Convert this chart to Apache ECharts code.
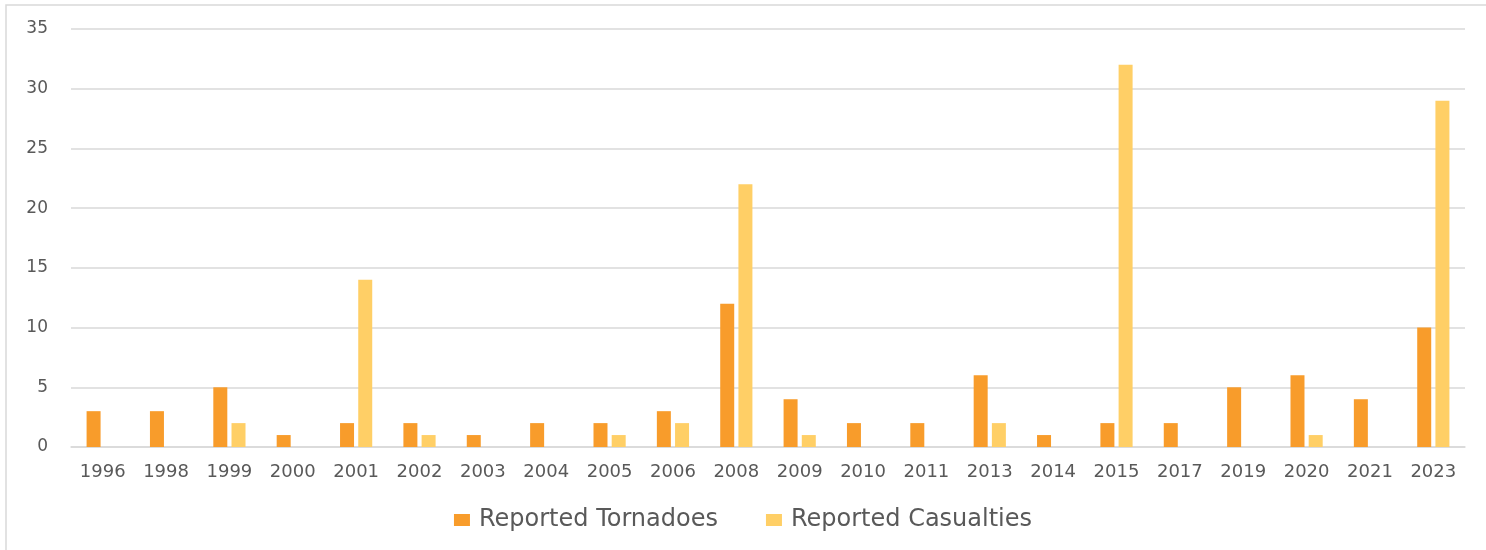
<!DOCTYPE html>
<html><head><meta charset="utf-8">
<script src="https://cdn.jsdelivr.net/npm/echarts@6/dist/echarts.min.js"></script>
<style>html,body{margin:0;padding:0;background:#fff}#c{width:1486px;height:550px}</style>
</head><body><div id="c"></div>
<script>
const years = ['1996','1998','1999','2000','2001','2002','2003','2004','2005','2006','2008','2009','2010','2011','2013','2014','2015','2017','2019','2020','2021','2023'];
const tornadoes = [3,3,5,1,2,2,1,2,2,3,12,4,2,2,6,1,2,2,5,6,4,10];
const casualties = [0,0,2,0,14,1,0,0,1,2,22,1,0,0,2,0,32,0,0,1,0,29];
const yTicks = [0,5,10,15,20,25,30,35];

const chart = echarts.init(document.getElementById('c'), null, {renderer:'canvas'});
const font = 'DejaVu Sans';
chart.setOption({
  animation:false,
  graphic:[{type:'rect',shape:{x:6,y:5,width:1600,height:700},style:{fill:'none',stroke:'#d9d9d9',lineWidth:1.5},silent:true}],
  grid:{left:71,right:21,top:29,bottom:103,containLabel:false},
  legend:{top:503,left:'center',itemWidth:16,itemHeight:12,itemGap:48,icon:'rect',
    textStyle:{color:'#595959',fontFamily:font,fontSize:24,padding:[0,0,0,4]},
    data:['Reported Tornadoes','Reported Casualties']},
  xAxis:{type:'category',data:years,
    axisLine:{lineStyle:{color:'#d9d9d9',width:1.5}},axisTick:{show:false},
    axisLabel:{color:'#595959',fontFamily:font,fontSize:18,margin:16,interval:0}},
  yAxis:{type:'value',min:yTicks[0],max:yTicks[yTicks.length-1],interval:5,
    axisLine:{show:false},axisTick:{show:false},
    splitLine:{lineStyle:{color:'#d9d9d9',width:1.5}},
    axisLabel:{color:'#595959',fontFamily:font,fontSize:17,margin:23}},
  series:[
    {name:'Reported Tornadoes',type:'bar',data:tornadoes,barWidth:14,barGap:'30%',
      itemStyle:{color:'#F89C2B'}},
    {name:'Reported Casualties',type:'bar',data:casualties,barWidth:14,
      itemStyle:{color:'#FFCF66'}}
  ]
});
</script></body></html>
